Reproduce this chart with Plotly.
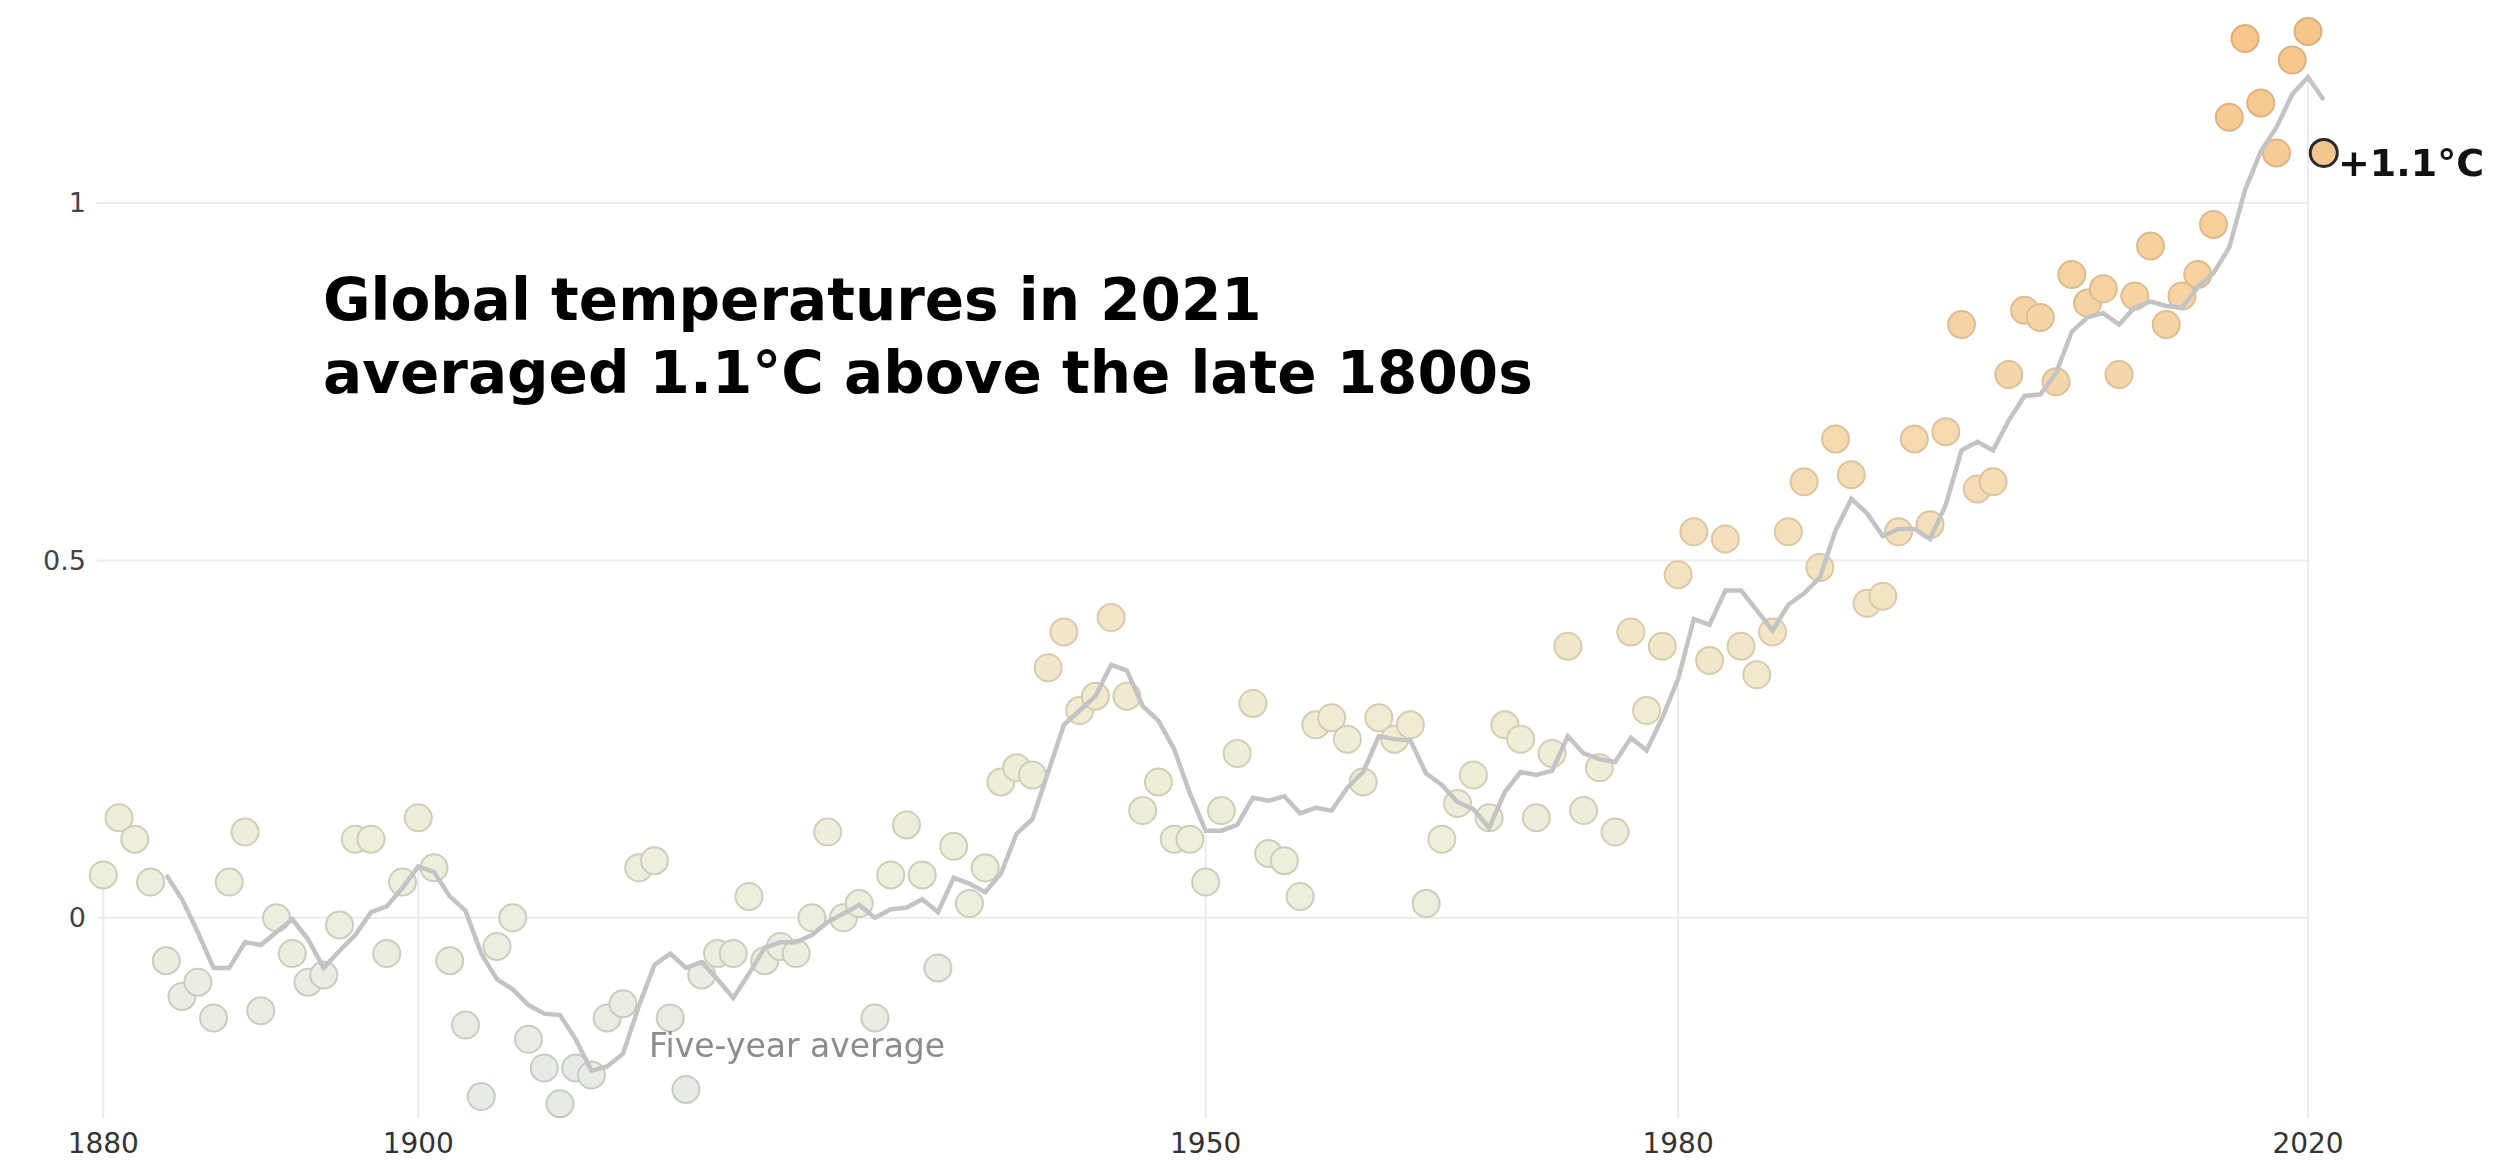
import plotly.graph_objects as go

# ---------------- data ----------------
years = list(range(1880, 2022))
anomaly = [
    0.06, 0.14, 0.11, 0.05, -0.06, -0.11, -0.09, -0.14, 0.05, 0.12,   # 1880s
    -0.13, 0.00, -0.05, -0.09, -0.08, -0.01, 0.11, 0.11, -0.05, 0.05,  # 1890s
    0.14, 0.07, -0.06, -0.15, -0.25, -0.04, 0.00, -0.17, -0.21, -0.26,  # 1900s
    -0.21, -0.22, -0.14, -0.12, 0.07, 0.08, -0.14, -0.24, -0.08, -0.05,  # 1910s
    -0.05, 0.03, -0.06, -0.04, -0.05, 0.00, 0.12, 0.00, 0.02, -0.14,   # 1920s
    0.06, 0.13, 0.06, -0.07, 0.10, 0.02, 0.07, 0.19, 0.21, 0.20,       # 1930s
    0.35, 0.40, 0.29, 0.31, 0.42, 0.31, 0.15, 0.19, 0.11, 0.11,        # 1940s
    0.05, 0.15, 0.23, 0.30, 0.09, 0.08, 0.03, 0.27, 0.28, 0.25,        # 1950s
    0.19, 0.28, 0.25, 0.27, 0.02, 0.11, 0.16, 0.20, 0.14, 0.27,        # 1960s
    0.25, 0.14, 0.23, 0.38, 0.15, 0.21, 0.12, 0.40, 0.29, 0.38,        # 1970s
    0.48, 0.54, 0.36, 0.53, 0.38, 0.34, 0.40, 0.54, 0.61, 0.49,        # 1980s
    0.67, 0.62, 0.44, 0.45, 0.54, 0.67, 0.55, 0.68, 0.83, 0.60,        # 1990s
    0.61, 0.76, 0.85, 0.84, 0.75, 0.90, 0.86, 0.88, 0.76, 0.87,        # 2000s
    0.94, 0.83, 0.87, 0.90, 0.97, 1.12, 1.23, 1.14, 1.07, 1.20,        # 2010s
    1.24, 1.07,                                                        # 2020-21
]

avg_years = list(range(1884, 2022))
five_year_avg = [
    0.060, 0.026, -0.020, -0.070, -0.070, -0.034, -0.038, -0.020, -0.002, -0.030,
    -0.070, -0.046, -0.024, 0.008, 0.016, 0.042, 0.072, 0.064, 0.030, 0.010,
    -0.050, -0.086, -0.100, -0.122, -0.134, -0.136, -0.170, -0.214, -0.208, -0.190,
    -0.124, -0.066, -0.050, -0.070, -0.062, -0.086, -0.112, -0.078, -0.042, -0.034,
    -0.034, -0.024, -0.006, 0.006, 0.018, 0.000, 0.012, 0.014, 0.026, 0.008,
    0.056, 0.048, 0.036, 0.062, 0.118, 0.138, 0.204, 0.270, 0.290, 0.310,
    0.354, 0.346, 0.296, 0.276, 0.236, 0.174, 0.122, 0.122, 0.130, 0.168,
    0.164, 0.170, 0.146, 0.154, 0.150, 0.182, 0.204, 0.254, 0.250, 0.248,
    0.202, 0.186, 0.162, 0.152, 0.126, 0.176, 0.204, 0.200, 0.206, 0.254,
    0.230, 0.222, 0.218, 0.252, 0.234, 0.280, 0.334, 0.418, 0.410, 0.458,
    0.458, 0.430, 0.402, 0.438, 0.454, 0.476, 0.542, 0.586, 0.566, 0.534,
    0.544, 0.544, 0.530, 0.578, 0.654, 0.666, 0.654, 0.696, 0.730, 0.732,
    0.762, 0.820, 0.840, 0.846, 0.830, 0.854, 0.862, 0.856, 0.854, 0.882,
    0.902, 0.938, 1.018, 1.072, 1.106, 1.152, 1.176, 1.144,
]

x_ticks = [1880, 1900, 1950, 1980, 2020]
x_tick_labels = ["1880", "1900", "1950", "1980", "2020"]
y_ticks = [0, 0.5, 1]
y_tick_labels = ["0", "0.5", "1"]

title_lines = ["Global temperatures in 2021", "averaged 1.1°C above the late 1800s"]
avg_label = "Five-year average"
last_label = "+1.1°C"

# ---------------- styling ----------------
X_RANGE = [1879.6, 2024.0]
Y_RANGE = [-0.28, 1.27]
GRID = "#ebebeb"

fill_scale = [
    [0.00, "#e3e8e4"],
    [0.19, "#eaecdc"],
    [0.35, "#eeebd2"],
    [0.48, "#f2e1bd"],
    [0.65, "#f4d4a3"],
    [0.84, "#f6c98e"],
    [1.00, "#f7bf7b"],
]
edge_scale = [
    [0.00, "#c1c5bf"],
    [0.19, "#c7c8b5"],
    [0.35, "#cfc9ac"],
    [0.48, "#d5c4a0"],
    [0.65, "#d9bb8e"],
    [0.84, "#d8b180"],
    [1.00, "#d5a76f"],
]

fig = go.Figure()

# horizontal gridlines (stop at the 2020 line)
for t in y_ticks:
    fig.add_shape(type="line", xref="x", yref="y", x0=X_RANGE[0], x1=x_ticks[-1],
                  y0=t, y1=t, line=dict(color=GRID, width=2), layer="below")

# vertical lines at tick years, rising from the bottom to the five-year average
avg_lookup = dict(zip(avg_years, five_year_avg))
val_lookup = dict(zip(years, anomaly))
for t in x_ticks:
    top = avg_lookup.get(t, val_lookup[t])
    fig.add_shape(type="line", xref="x", yref="y", x0=t, x1=t,
                  y0=Y_RANGE[0], y1=top, line=dict(color=GRID, width=2), layer="below")

# annual dots
fig.add_trace(go.Scatter(
    x=years[:-1], y=anomaly[:-1], mode="markers", cliponaxis=False,
    opacity=0.9, hoverinfo="skip",
    marker=dict(size=27, color=anomaly[:-1], colorscale=fill_scale, cmin=-0.3, cmax=1.25,
                line=dict(width=2, color=anomaly[:-1], colorscale=edge_scale,
                          cmin=-0.3, cmax=1.25)),
))

# five-year average line
fig.add_trace(go.Scatter(
    x=avg_years, y=five_year_avg, mode="lines", hoverinfo="skip",
    line=dict(color="#c3c3c3", width=4.5),
))

# highlighted latest year
fig.add_trace(go.Scatter(
    x=[years[-1]], y=[anomaly[-1]], mode="markers", cliponaxis=False, hoverinfo="skip",
    marker=dict(size=27, color="#f3c690", line=dict(width=3, color="#2a2a2a")),
))

fig.add_annotation(x=years[-1], y=anomaly[-1], xref="x", yref="y", text=last_label,
                   showarrow=False, xanchor="left", yanchor="middle", xshift=12, yshift=-10,
                   font=dict(family="DejaVu Sans", size=38, color="#111111", weight="bold"))

fig.add_annotation(x=1893.8, y=0.864, xref="x", yref="y", text=title_lines[0],
                   showarrow=False, xanchor="left", yanchor="middle",
                   font=dict(family="DejaVu Sans", size=58, color="#000000", weight="bold"))
fig.add_annotation(x=1893.8, y=0.762, xref="x", yref="y", text=title_lines[1],
                   showarrow=False, xanchor="left", yanchor="middle",
                   font=dict(family="DejaVu Sans", size=58, color="#000000", weight="bold"))

fig.add_annotation(x=1914.5, y=-0.179, xref="x", yref="y", text=avg_label,
                   showarrow=False, xanchor="left", yanchor="middle",
                   font=dict(family="DejaVu Sans", size=33, color="#8c8c8c"))

fig.update_layout(
    width=2504, height=1164,
    margin=dict(l=97, r=133, t=10, b=46, autoexpand=False),
    paper_bgcolor="white", plot_bgcolor="white",
    showlegend=False,
    xaxis=dict(range=X_RANGE, tickmode="array", tickvals=x_ticks, ticktext=x_tick_labels,
               showgrid=False, zeroline=False, showline=False, ticks="",
               tickfont=dict(family="DejaVu Sans", size=28, color="#333333"),
               ticklabelstandoff=6, automargin=False),
    yaxis=dict(range=Y_RANGE, tickmode="array", tickvals=y_ticks, ticktext=y_tick_labels,
               showgrid=False, zeroline=False, showline=False, ticks="",
               tickfont=dict(family="DejaVu Sans", size=27, color="#444444"),
               ticklabelstandoff=10, automargin=False),
)

fig.write_html("out.html", config={"displayModeBar": False},
               post_script="document.body.style.margin='0';")
